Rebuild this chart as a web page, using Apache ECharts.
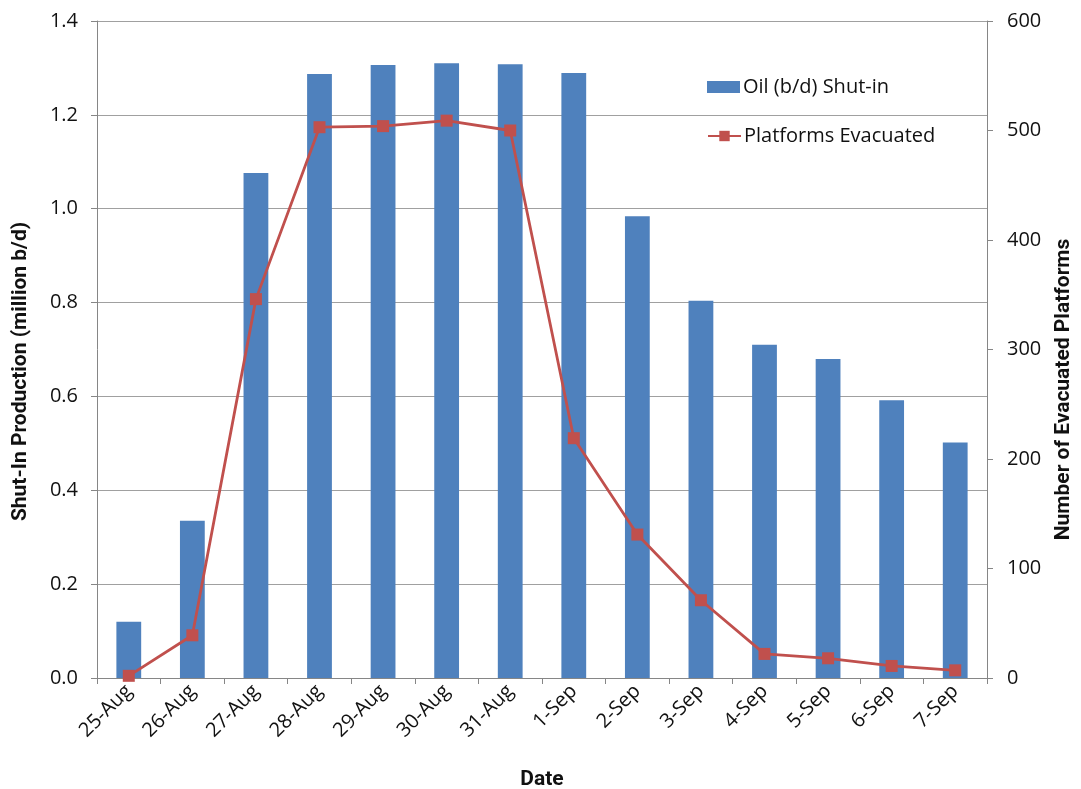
<!DOCTYPE html>
<html>
<head>
<meta charset="utf-8">
<script src="https://cdn.jsdelivr.net/npm/echarts@6/dist/echarts.min.js"></script>
<style>
  html, body { margin: 0; padding: 0; background: #ffffff; }
  #chart { width: 1081px; height: 789px; }
</style>
</head>
<body>
<div id="chart"></div>
<script>
// Dates of the shut-in period
const dates = ['25-Aug', '26-Aug', '27-Aug', '28-Aug', '29-Aug', '30-Aug', '31-Aug',
               '1-Sep', '2-Sep', '3-Sep', '4-Sep', '5-Sep', '6-Sep', '7-Sep'];

// Oil shut-in production, million b/d
const oilShutIn = [0.12, 0.335, 1.076, 1.287, 1.306, 1.310, 1.308,
                   1.289, 0.984, 0.804, 0.710, 0.680, 0.592, 0.502];

// Number of platforms evacuated
const platformsEvacuated = [2, 39, 346, 503, 504, 509, 500,
                            219, 131, 71, 22, 18, 11, 7];

const axisGray = '#868686';
const gridGray = '#a0a0a0';
const textColor = '#111111';
const labelFont = 'Open Sans';
const titleFont = 'Roboto';

const chart = echarts.init(document.getElementById('chart'), null, { renderer: 'canvas' });

const legendText = { fontFamily: labelFont, fontSize: 20, color: textColor, padding: [0, 0, 0, -2] };
const titleStyle = { fontFamily: titleFont, fontSize: 21, fontWeight: 'bold', color: textColor };

chart.setOption({
  animation: false,
  backgroundColor: '#ffffff',
  grid: {
    left: 97, right: 94, top: 21, bottom: 111,
    containLabel: false,
    outerBoundsMode: 'none'
  },
  legend: [
    {
      left: 707,
      top: 77,
      padding: 0,
      itemWidth: 33,
      itemHeight: 12,
      itemGap: 0,
      textStyle: legendText,
      data: [{ name: 'Oil (b/d) Shut-in', icon: 'rect' }]
    },
    {
      left: 707,
      top: 126,
      padding: 0,
      itemWidth: 33,
      itemHeight: 13,
      itemGap: 0,
      textStyle: legendText,
      data: [{ name: 'Platforms Evacuated' }]
    }
  ],
  xAxis: {
    type: 'category',
    data: dates,
    boundaryGap: true,
    name: 'Date',
    nameLocation: 'middle',
    nameGap: 91,
    nameTextStyle: titleStyle,
    axisLine: { lineStyle: { color: axisGray, width: 1 } },
    axisTick: { show: true, alignWithLabel: false, length: 6, lineStyle: { color: axisGray } },
    axisLabel: {
      rotate: 45,
      margin: 10,
      interval: 0,
      fontFamily: labelFont,
      fontSize: 20,
      color: textColor
    }
  },
  yAxis: [
    {
      type: 'value',
      min: 0,
      max: 1.4,
      interval: 0.2,
      position: 'left',
      name: 'Shut-In Production (million b/d)',
      nameLocation: 'middle',
      nameGap: 66,
      nameRotate: 90,
      nameTextStyle: Object.assign({ padding: [0, 44, 0, 0] }, titleStyle),
      axisLine: { show: true, lineStyle: { color: axisGray, width: 1 } },
      axisTick: { show: true, length: 6, lineStyle: { color: axisGray } },
      axisLabel: {
        margin: 19,
        fontFamily: labelFont,
        fontSize: 20,
        color: textColor,
        formatter: v => v.toFixed(1)
      },
      splitLine: { show: true, lineStyle: { color: gridGray, width: 1 } }
    },
    {
      type: 'value',
      min: 0,
      max: 600,
      interval: 100,
      position: 'right',
      name: 'Number of Evacuated Platforms',
      nameLocation: 'middle',
      nameGap: 66,
      nameRotate: 90,
      nameTextStyle: Object.assign({ padding: [0, 80, 0, 0] }, titleStyle),
      axisLine: { show: true, lineStyle: { color: axisGray, width: 1 } },
      axisTick: { show: true, length: 6, lineStyle: { color: axisGray } },
      axisLabel: {
        margin: 20,
        fontFamily: labelFont,
        fontSize: 20,
        color: textColor
      },
      splitLine: { show: false }
    }
  ],
  series: [
    {
      name: 'Oil (b/d) Shut-in',
      type: 'bar',
      yAxisIndex: 0,
      data: oilShutIn,
      barWidth: '39%',
      itemStyle: { color: '#4F81BD' }
    },
    {
      name: 'Platforms Evacuated',
      type: 'line',
      yAxisIndex: 1,
      data: platformsEvacuated,
      symbol: 'rect',
      symbolSize: 12,
      lineStyle: { color: '#C0504D', width: 2.8 },
      itemStyle: { color: '#C0504D' }
    }
  ]
});
</script>
</body>
</html>
